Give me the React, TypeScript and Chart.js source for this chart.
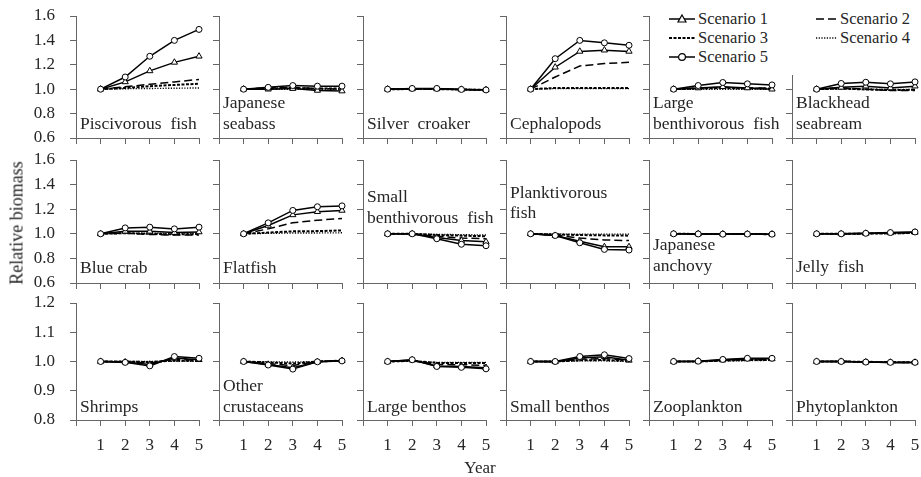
import React, { useEffect, useRef } from 'react';
import { Chart, registerables } from 'chart.js';

Chart.register(...registerables);

const FONT = '"Liberation Serif", "Times New Roman", serif';
const TEXT = '#262626';
const AXIS = '#666666';

// ---------- data ----------
const years = [1, 2, 3, 4, 5];
const scenarioNames = ['Scenario 1', 'Scenario 2', 'Scenario 3', 'Scenario 4', 'Scenario 5'];

// each panel: rows = Scenario 1..5, columns = year 1..5
const piscivorousFish = [
  [1.0, 1.06, 1.15, 1.22, 1.27],
  [1.0, 1.02, 1.04, 1.06, 1.08],
  [1.0, 1.01, 1.025, 1.035, 1.045],
  [1.0, 1.004, 1.006, 1.008, 1.01],
  [1.0, 1.1, 1.27, 1.4, 1.49],
];
const japaneseSeabass = [
  [1.0, 1.0, 1.005, 0.99, 0.985],
  [1.0, 1.01, 1.015, 1.005, 1.0],
  [1.0, 1.005, 1.01, 1.005, 1.005],
  [1.0, 1.0, 1.0, 1.0, 1.0],
  [1.0, 1.015, 1.03, 1.025, 1.025],
];
const silverCroaker = [
  [1.0, 1.003, 1.003, 0.998, 0.995],
  [1.0, 1.002, 1.002, 0.997, 0.995],
  [1.0, 1.001, 1.001, 0.997, 0.995],
  [1.0, 1.0, 1.0, 0.998, 0.996],
  [1.0, 1.006, 1.006, 0.998, 0.994],
];
const cephalopods = [
  [1.0, 1.18, 1.31, 1.32, 1.31],
  [1.0, 1.1, 1.19, 1.21, 1.22],
  [1.0, 1.01, 1.01, 1.01, 1.01],
  [1.0, 1.005, 1.005, 1.005, 1.005],
  [1.0, 1.25, 1.4, 1.38, 1.36],
];
const largeBenthivorousFish = [
  [1.0, 1.01, 1.02, 1.01, 1.0],
  [1.0, 1.01, 1.015, 1.01, 1.01],
  [1.0, 1.005, 1.01, 1.005, 1.005],
  [1.0, 1.0, 1.0, 1.0, 1.0],
  [1.0, 1.03, 1.055, 1.044, 1.035],
];
const blackheadSeabream = [
  [1.0, 1.015, 1.025, 1.01, 1.025],
  [1.0, 1.01, 1.0, 0.99, 0.99],
  [1.0, 1.005, 0.998, 0.993, 0.995],
  [1.0, 1.002, 1.0, 0.998, 0.998],
  [1.0, 1.047, 1.057, 1.044, 1.06],
];
const blueCrab = [
  [1.0, 1.02, 1.02, 1.01, 1.015],
  [1.0, 1.005, 0.995, 0.99, 0.99],
  [1.0, 1.005, 1.0, 0.995, 0.998],
  [1.0, 1.005, 1.005, 1.003, 1.005],
  [1.0, 1.048, 1.054, 1.04, 1.054],
];
const flatfish = [
  [1.0, 1.068, 1.154, 1.18, 1.19],
  [1.0, 1.04, 1.09, 1.11, 1.125],
  [1.0, 1.01, 1.02, 1.022, 1.027],
  [1.0, 1.004, 1.006, 1.007, 1.008],
  [1.0, 1.089, 1.19, 1.22, 1.227],
];
const smallBenthivorousFish = [
  [1.0, 1.0, 0.97, 0.945, 0.935],
  [1.0, 1.0, 0.98, 0.965, 0.96],
  [1.0, 1.0, 0.99, 0.985, 0.98],
  [1.0, 1.0, 0.995, 0.993, 0.99],
  [1.0, 1.0, 0.96, 0.915, 0.903],
];
const planktivorousFish = [
  [1.0, 0.986, 0.94, 0.894, 0.894],
  [1.0, 0.99, 0.965, 0.95, 0.945],
  [1.0, 0.995, 0.99, 0.987, 0.985],
  [1.0, 0.998, 0.997, 0.997, 0.997],
  [1.0, 0.986, 0.927, 0.873, 0.868],
];
const japaneseAnchovy = [
  [1.0, 0.999, 0.998, 0.998, 0.997],
  [1.0, 0.999, 0.998, 0.998, 0.997],
  [1.0, 0.999, 0.998, 0.998, 0.997],
  [1.0, 0.999, 0.998, 0.998, 0.998],
  [1.0, 0.999, 0.997, 0.998, 0.997],
];
const jellyFish = [
  [1.0, 1.0, 1.003, 1.008, 1.012],
  [1.0, 1.0, 1.002, 1.006, 1.01],
  [1.0, 1.0, 1.001, 1.004, 1.007],
  [1.0, 1.0, 1.001, 1.002, 1.004],
  [1.0, 1.0, 1.004, 1.01, 1.015],
];
const shrimps = [
  [1.0, 0.998, 0.99, 1.012, 1.006],
  [1.0, 0.999, 0.995, 1.007, 1.004],
  [1.0, 1.0, 0.998, 1.003, 1.002],
  [1.0, 1.0, 1.0, 1.001, 1.001],
  [1.0, 0.997, 0.985, 1.017, 1.011],
];
const otherCrustaceans = [
  [1.0, 0.99, 0.979, 0.999, 1.003],
  [1.0, 0.993, 0.986, 1.0, 1.003],
  [1.0, 0.997, 0.993, 1.0, 1.003],
  [1.0, 0.999, 0.998, 1.0, 1.002],
  [1.0, 0.988, 0.974, 0.999, 1.002],
];
const largeBenthos = [
  [1.0, 1.005, 0.985, 0.983, 0.979],
  [1.0, 1.003, 0.99, 0.989, 0.987],
  [1.0, 1.002, 0.995, 0.995, 0.995],
  [1.0, 1.001, 0.997, 0.997, 0.997],
  [1.0, 1.006, 0.983, 0.98, 0.975],
];
const smallBenthos = [
  [1.0, 0.999, 1.012, 1.016, 1.004],
  [1.0, 1.0, 1.008, 1.01, 1.004],
  [1.0, 1.0, 1.004, 1.005, 1.002],
  [1.0, 1.0, 1.002, 1.002, 1.0],
  [1.0, 1.0, 1.017, 1.023, 1.01],
];
const zooplankton = [
  [1.0, 1.001, 1.005, 1.009, 1.009],
  [1.0, 1.0, 1.004, 1.007, 1.007],
  [1.0, 1.0, 1.003, 1.005, 1.005],
  [1.0, 1.0, 1.002, 1.003, 1.004],
  [1.0, 1.001, 1.007, 1.011, 1.011],
];
const phytoplankton = [
  [1.0, 1.0, 0.998, 0.997, 0.997],
  [1.0, 1.0, 0.999, 0.997, 0.997],
  [1.0, 1.0, 0.999, 0.998, 0.997],
  [1.0, 1.0, 0.999, 0.998, 0.998],
  [1.0, 1.0, 0.998, 0.997, 0.997],
];

const panelNames = [
  ['Piscivorous  fish'], ['Japanese', 'seabass'], ['Silver  croaker'], ['Cephalopods'],
  ['Large', 'benthivorous  fish'], ['Blackhead', 'seabream'],
  ['Blue crab'], ['Flatfish'], ['Small', 'benthivorous  fish'], ['Planktivorous', 'fish'],
  ['Japanese', 'anchovy'], ['Jelly  fish'],
  ['Shrimps'], ['Other', 'crustaceans'], ['Large benthos'], ['Small benthos'],
  ['Zooplankton'], ['Phytoplankton'],
];
const panelData = [
  piscivorousFish, japaneseSeabass, silverCroaker, cephalopods, largeBenthivorousFish, blackheadSeabream,
  blueCrab, flatfish, smallBenthivorousFish, planktivorousFish, japaneseAnchovy, jellyFish,
  shrimps, otherCrustaceans, largeBenthos, smallBenthos, zooplankton, phytoplankton,
];

const yMinByRow = [0.6, 0.6, 0.8];
const yMaxByRow = [1.6, 1.6, 1.2];
const yStepByRow = [0.2, 0.2, 0.1];
const xTicks = [0, 1, 2, 3, 4, 5];

// ---------- layout / style ----------
const COL_X = [76, 219, 363, 506, 649, 792];
const ROW_TOP = [16, 160, 303];
const ROW_H = [122, 123, 117];
const PLOT_W = 123;
// baseline of last label line, px from plot top
const LABEL_BASE = [
  112.5, 112.5, 112.5, 112.5, 112.5, 112.5,
  112.5, 112.5, 62.7, 58.3, 110.7, 111.7,
  108.7, 108.7, 108.7, 108.7, 108.7, 108.7,
];
const LABEL_LH = 20.8;

const seriesStyles = [
  { borderDash: [], pointStyle: 'triangle', pointRadius: 3.6, borderWidth: 1.5, order: 1 },
  { borderDash: [8, 4], pointStyle: 'circle', pointRadius: 0, borderWidth: 1.5, order: 2 },
  { borderDash: [3, 1.5], pointStyle: 'circle', pointRadius: 0, borderWidth: 2, order: 3 },
  { borderDash: [1.2, 1.5], pointStyle: 'circle', pointRadius: 0, borderWidth: 1.4, order: 4 },
  { borderDash: [], pointStyle: 'circle', pointRadius: 3, borderWidth: 1.5, order: 0 },
];

const panelLabelPlugin = {
  id: 'panelLabel',
  beforeDatasetsDraw(chart: any, _args: any, opts: any) {
    const { ctx, chartArea } = chart;
    const lines: string[] = opts.lines || [];
    ctx.save();
    ctx.font = `17.5px ${FONT}`;
    ctx.fillStyle = TEXT;
    ctx.textAlign = 'left';
    ctx.textBaseline = 'alphabetic';
    lines.forEach((ln, k) => {
      const y = chartArea.top + opts.baseline - (lines.length - 1 - k) * LABEL_LH;
      ctx.fillText(ln, chartArea.left + 4, y);
    });
    ctx.restore();
  },
};

function geometry(i: number) {
  const row = Math.floor(i / 6);
  const col = i % 6;
  const L = col === 0 ? 72 : 10;
  const B = row === 2 ? 38 : col === 0 ? 28 : 10;
  const T = col === 0 ? 28 : 12;
  const R = 14;
  return {
    row, col, L, B, T, R,
    left: COL_X[col] - L,
    top: ROW_TOP[row] - T,
    width: L + PLOT_W + R,
    height: T + ROW_H[row] + B,
  };
}

function makeChart(canvas: HTMLCanvasElement, i: number) {
  const g = geometry(i);
  const vals = panelData[i];
  const datasets = vals.map((series, s) => ({
    label: scenarioNames[s],
    data: years.map((x, k) => ({ x, y: series[k] })),
    borderColor: '#000',
    backgroundColor: '#fff',
    pointBackgroundColor: '#fff',
    pointBorderColor: '#000',
    pointBorderWidth: 1,
    borderWidth: seriesStyles[s].borderWidth,
    borderDash: seriesStyles[s].borderDash,
    pointStyle: seriesStyles[s].pointStyle,
    pointRadius: seriesStyles[s].pointRadius,
    order: seriesStyles[s].order,
    tension: 0,
    clip: false,
  }));
  return new Chart(canvas, {
    type: 'line',
    data: { datasets } as any,
    plugins: [panelLabelPlugin as any],
    options: {
      responsive: false,
      animation: false,
      events: [],
      layout: { padding: { top: g.T, right: g.R, left: 0, bottom: 0 } },
      plugins: {
        legend: { display: false },
        tooltip: { enabled: false },
        title: { display: false },
        panelLabel: { lines: panelNames[i], baseline: LABEL_BASE[i] },
      } as any,
      scales: {
        x: {
          type: 'linear',
          min: 0,
          max: 5,
          afterBuildTicks: (scale: any) => {
            scale.ticks = xTicks.map((v) => ({ value: v }));
          },
          afterFit: (scale: any) => {
            scale.height = g.B;
          },
          grid: { display: true, drawOnChartArea: false, drawTicks: true, tickLength: 6, color: AXIS, lineWidth: 1 },
          border: { display: true, color: AXIS, width: 1 },
          ticks: {
            display: g.row === 2,
            padding: 9,
            maxRotation: 0,
            autoSkip: false,
            color: TEXT,
            font: { family: FONT, size: 17 },
            callback: (v: any) => (v === 0 ? '' : String(v)),
          },
        },
        y: {
          type: 'linear',
          min: yMinByRow[g.row],
          max: yMaxByRow[g.row],
          afterFit: (scale: any) => {
            scale.width = g.L;
          },
          grid: { display: true, drawOnChartArea: false, drawTicks: true, tickLength: 6, color: AXIS, lineWidth: 1 },
          border: { display: true, color: AXIS, width: 1 },
          ticks: {
            display: g.col === 0,
            stepSize: yStepByRow[g.row],
            padding: 15,
            color: TEXT,
            font: { family: FONT, size: 17 },
            callback: (v: any) => Number(v).toFixed(1),
          },
        },
      },
    } as any,
  });
}

function Swatch({ s, w }: { s: number; w: number }) {
  const st = seriesStyles[s];
  const dash = st.borderDash.length ? st.borderDash.join(',') : undefined;
  const mid = w / 2;
  return (
    <svg width={w} height={12} style={{ display: 'block' }}>
      <line x1={0} x2={w} y1={6} y2={6} stroke="#000" strokeWidth={st.borderWidth} strokeDasharray={dash} />
      {s === 0 && (
        <polygon points={`${mid},2 ${mid + 4},9 ${mid - 4},9`} fill="#fff" stroke="#000" strokeWidth={1.2} />
      )}
      {s === 4 && <circle cx={mid} cy={6} r={3.4} fill="#fff" stroke="#000" strokeWidth={1.2} />}
    </svg>
  );
}

const legendItems = [
  { s: 0, x: 669, y: 18.5, w: 26 },
  { s: 1, x: 816, y: 18.5, w: 21 },
  { s: 2, x: 669, y: 37.5, w: 26 },
  { s: 3, x: 816, y: 37.5, w: 21 },
  { s: 4, x: 669, y: 56.5, w: 26 },
];

export default function App() {
  const refs = useRef<(HTMLCanvasElement | null)[]>([]);

  useEffect(() => {
    const charts = panelData.map((_, i) => makeChart(refs.current[i] as HTMLCanvasElement, i));
    return () => charts.forEach((c) => c.destroy());
  }, []);

  return (
    <div style={{ position: 'absolute', left: 0, top: 0, width: 921, height: 477, background: '#fff', overflow: 'hidden', fontFamily: FONT, color: TEXT }}>
      {panelData.map((_, i) => {
        const g = geometry(i);
        return (
          <canvas
            key={i}
            ref={(el) => { refs.current[i] = el; }}
            width={g.width}
            height={g.height}
            style={{ position: 'absolute', left: g.left, top: g.top, width: g.width, height: g.height }}
          />
        );
      })}
      <div style={{ position: 'absolute', left: 663, top: 6, width: 258, height: 69, background: '#fff' }}>
        {legendItems.map((it) => (
          <div key={it.s} style={{ position: 'absolute', left: it.x - 663, top: it.y - 6 - 10, height: 20, display: 'flex', alignItems: 'center', whiteSpace: 'nowrap' }}>
            <Swatch s={it.s} w={it.w} />
            <span style={{ marginLeft: 3, fontSize: 16.5, lineHeight: '20px' }}>{scenarioNames[it.s]}</span>
          </div>
        ))}
      </div>
      <div style={{ position: 'absolute', left: 17, top: 223, transform: 'translate(-50%, -50%) rotate(-90deg)', whiteSpace: 'nowrap', fontSize: 18 }}>
        Relative biomass
      </div>
      <div style={{ position: 'absolute', left: 480, top: 468, transform: 'translate(-50%, -50%)', whiteSpace: 'nowrap', fontSize: 17 }}>
        Year
      </div>
    </div>
  );
}
